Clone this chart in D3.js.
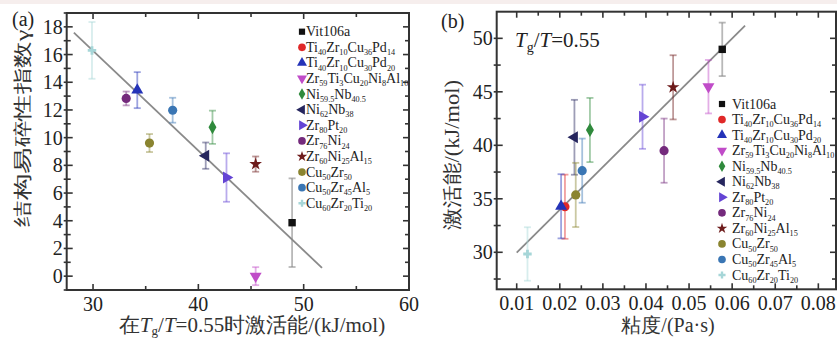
<!DOCTYPE html>
<html><head><meta charset="utf-8">
<script src="https://cdn.jsdelivr.net/npm/d3@7"></script>
<style>body{margin:0;background:#fff;}svg{display:block;font-family:"Liberation Serif","Times New Roman",serif;}</style>
</head><body><svg id="c" width="837" height="340"></svg>
<script>
// ---------- data ----------
const names = ["Vit106a","Ti_{40}Zr_{10}Cu_{36}Pd_{14}","Ti_{40}Zr_{10}Cu_{30}Pd_{20}","Zr_{59}Ti_{3}Cu_{20}Ni_{8}Al_{10}",
  "Ni_{59.5}Nb_{40.5}","Ni_{62}Nb_{38}","Zr_{80}Pt_{20}","Zr_{76}Ni_{24}","Zr_{60}Ni_{25}Al_{15}","Cu_{50}Zr_{50}",
  "Cu_{50}Zr_{45}Al_{5}","Cu_{60}Zr_{20}Ti_{20}"];
const colors = ["#111111","#e02828","#2433b8","#c04cc8","#2f8a3c","#26265e","#6444d4","#742a7c","#6e1c1c","#8a8430","#3a76b4","#a6d6d8"];
const shapes = ["square","circle","triangle","triangleDown","diamond","triangleLeft","triangleRight","circle","star","circle","circle","cross"];
// panel (a): activation energy at Tg/T=0.55 vs fragility index
const leftX   = [48.9, null, 34.2, 45.44, 41.34, 40.7, 42.67, 33.15, 45.44, 35.36, 37.56, 29.9];
const leftY   = [3.86, null, 13.43, 0.0, 10.75, 8.7, 7.12, 12.83, 8.09, 9.61, 11.98, 16.3];
const leftErr = [3.2, null, 1.3, 0.65, 1.2, 0.95, 1.75, 0.5, 0.55, 0.65, 0.9, 2.05];
const leftFitX = [28.18, 51.74];
const leftFitY = [17.58, 0.6];
const leftXTicks = [30, 40, 50, 60];
const leftYTicks = [0, 2, 4, 6, 8, 10, 12, 14, 16, 18];
// panel (b): viscosity vs activation energy
const rightX   = [0.0577, 0.0212, 0.0203, 0.0545, 0.0270, 0.0234, 0.0392, 0.0442, 0.0463, 0.0237, 0.0252, 0.0125];
const rightY   = [48.97, 34.26, 34.3, 45.48, 41.43, 40.75, 42.67, 39.5, 45.42, 35.36, 37.63, 29.84];
const rightErr = [2.5, 3.0, 3.0, 2.5, 3.0, 3.5, 3.0, 3.0, 3.0, 3.0, 3.0, 2.5];
const rightFitX = [0.0100, 0.0630];
const rightFitY = [29.97, 51.18];
const rightXTicks = [0.01, 0.02, 0.03, 0.04, 0.05, 0.06, 0.07, 0.08];
const rightYTicks = [30, 35, 40, 45, 50];

// ---------- helpers ----------
const svg = d3.select("#c");
svg.append("rect").attr("x",0).attr("y",0).attr("width",837).attr("height",4).attr("fill","#f6eeed");

function symType(s){
  return {square:d3.symbolSquare,circle:d3.symbolCircle,triangle:d3.symbolTriangle,diamond:d3.symbolDiamond,
    star:d3.symbolStar,cross:d3.symbolCross,triangleDown:d3.symbolTriangle,triangleLeft:d3.symbolTriangle,triangleRight:d3.symbolTriangle}[s];
}
function symRot(s){return {triangleDown:180,triangleLeft:-90,triangleRight:90}[s]||0;}
function symSize(s){return {square:55,circle:66,triangle:62,triangleDown:62,triangleLeft:62,triangleRight:62,diamond:55,star:50,cross:40}[s];}

function richText(sel, str, fs, subfs, sh){
  const parts = str.split(/(_\{[^}]*\})/).filter(p=>p.length);
  let sub=false;
  parts.forEach(p=>{
    if(p.startsWith("_{")){
      sel.append("tspan").attr("font-size",subfs).attr("dy",sub?0:sh).text(p.slice(2,-1));
      sub=true;
    } else {
      sel.append("tspan").attr("font-size",fs).attr("dy",sub?-sh:0).text(p);
      sub=false;
    }
  });
}

function panel(o){
  const g = svg.append("g");
  const x = d3.scaleLinear().domain(o.xd).range([o.l,o.r]);
  const y = d3.scaleLinear().domain(o.yd).range([o.b,o.t]);
  const tk = g.append("g").attr("stroke","#333").attr("stroke-width",1.6);
  const xm = d3.range(Math.ceil(o.xd[0]/o.xminor)*o.xminor, o.xd[1]+1e-9, o.xminor);
  xm.forEach(v=>{
    const major = o.xt.some(t=>Math.abs(t-v)<1e-9);
    const len = major?6:4;
    tk.append("line").attr("x1",x(v)).attr("x2",x(v)).attr("y1",o.b).attr("y2",o.b-len);
    tk.append("line").attr("x1",x(v)).attr("x2",x(v)).attr("y1",o.t).attr("y2",o.t+len);
  });
  const ym = d3.range(Math.ceil(o.yd[0]/o.yminor)*o.yminor, o.yd[1]+1e-9, o.yminor);
  ym.forEach(v=>{
    const major = o.yt.some(t=>Math.abs(t-v)<1e-9);
    const len = major?6:4;
    tk.append("line").attr("x1",o.l-3).attr("x2",o.l+len).attr("y1",y(v)).attr("y2",y(v));
    tk.append("line").attr("x1",o.r).attr("x2",o.r-len).attr("y1",y(v)).attr("y2",y(v));
  });
  g.append("rect").attr("x",o.l).attr("y",o.t).attr("width",o.r-o.l).attr("height",o.b-o.t)
    .attr("fill","none").attr("stroke","#333").attr("stroke-width",2);
  g.append("g").selectAll("text").data(o.xt).join("text")
    .attr("x",d=>x(d)).attr("y",o.b+21).attr("text-anchor","middle").attr("font-size",20).attr("fill","#222")
    .text(d=>o.xfmt(d));
  g.append("g").selectAll("text").data(o.yt).join("text")
    .attr("x",o.l-4).attr("y",d=>y(d)).attr("dy","0.35em").attr("text-anchor","end").attr("font-size",20).attr("fill","#222")
    .text(d=>d);
  g.append("line").attr("x1",x(o.fx[0])).attr("y1",y(o.fy[0])).attr("x2",x(o.fx[1])).attr("y2",y(o.fy[1]))
    .attr("stroke","#8a8a8a").attr("stroke-width",1.8);
  const idx = d3.range(names.length).filter(i=>o.px[i]!=null);
  const eb = g.append("g");
  idx.forEach(i=>{
    const cx=x(o.px[i]), y1=y(o.py[i]+o.pe[i]), y2=y(o.py[i]-o.pe[i]);
    const c = i===0?"#888":colors[i];
    const e = eb.append("g").attr("stroke",c).attr("stroke-opacity",i===0?0.6:0.45).attr("stroke-width",1.8);
    e.append("line").attr("x1",cx).attr("x2",cx).attr("y1",y1).attr("y2",y2);
    e.append("line").attr("x1",cx-3.5).attr("x2",cx+3.5).attr("y1",y1).attr("y2",y1);
    e.append("line").attr("x1",cx-3.5).attr("x2",cx+3.5).attr("y1",y2).attr("y2",y2);
  });
  idx.forEach(i=>{
    g.append("path").attr("d",d3.symbol(symType(shapes[i]),symSize(shapes[i]))())
      .attr("transform",`translate(${x(o.px[i])},${y(o.py[i])}) rotate(${symRot(shapes[i])})`)
      .attr("fill",colors[i]);
  });
  const lg = g.append("g");
  names.forEach((n,i)=>{
    const yy = o.ly + i*o.ls;
    lg.append("path").attr("d",d3.symbol(symType(shapes[i]),symSize(shapes[i])*0.7)())
      .attr("transform",`translate(${o.lx},${yy}) rotate(${symRot(shapes[i])})`).attr("fill",colors[i]);
    const t = lg.append("text").attr("x",o.lx+o.lt).attr("y",yy+4.5).attr("fill","#222");
    richText(t,n,14,8.2,3.2);
  });
  return {x,y,g};
}

panel({l:66.7,r:409,t:13,b:290, xd:[27.5,60], yd:[-1,19], xminor:5, yminor:1, xt:leftXTicks, yt:leftYTicks,
  xfmt:d=>d, px:leftX, py:leftY, pe:leftErr, fx:leftFitX, fy:leftFitY, lx:302, ly:31.7, ls:15.6, lt:4});
panel({l:496.7,r:836,t:11.7,b:289.3, xd:[0.00536,0.0841], yd:[26.54,52.49], xminor:0.005, yminor:2.5, xt:rightXTicks, yt:rightYTicks,
  xfmt:d3.format(".2f"), px:rightX, py:rightY, pe:rightErr, fx:rightFitX, fy:rightFitY, lx:722, ly:104, ls:15.55, lt:10});

svg.append("text").attr("x",12).attr("y",26).attr("font-size",20).attr("fill","#222").text("(a)");
svg.append("text").attr("x",441).attr("y",28).attr("font-size",20).attr("fill","#222").text("(b)");
const tg = svg.append("text").attr("x",515).attr("y",47).attr("font-size",21).attr("fill","#222");
tg.append("tspan").attr("font-style","italic").text("T");
tg.append("tspan").attr("font-size",14).attr("dy",5).text("g");
tg.append("tspan").attr("dy",-5).text("/");
tg.append("tspan").attr("font-style","italic").text("T");
tg.append("tspan").text("=0.55");

const xa = svg.append("text").attr("x",252).attr("y",332).attr("text-anchor","middle").attr("font-size",21).attr("fill","#333");
xa.append("tspan").text("在");
xa.append("tspan").attr("font-style","italic").text("T");
xa.append("tspan").attr("font-size",13).attr("dy",3).text("g");
xa.append("tspan").attr("dy",-3).text("/");
xa.append("tspan").attr("font-style","italic").text("T");
xa.append("tspan").text("=0.55时激活能/(kJ/mol)");

svg.append("text").attr("transform","translate(22,128) rotate(-90)").attr("text-anchor","middle")
  .attr("dominant-baseline","central").attr("font-size",19).attr("fill","#333")
  .attr("textLength",197).attr("lengthAdjust","spacingAndGlyphs").text("结构易碎性指数γ");

svg.append("text").attr("transform","translate(452,155) rotate(-90)").attr("text-anchor","middle")
  .attr("dominant-baseline","central").attr("font-size",20).attr("fill","#333")
  .attr("textLength",150).attr("lengthAdjust","spacingAndGlyphs").text("激活能/(kJ/mol)");

svg.append("text").attr("x",668).attr("y",332).attr("text-anchor","middle").attr("font-size",20).attr("fill","#333")
  .text("粘度/(Pa·s)");
</script></body></html>
